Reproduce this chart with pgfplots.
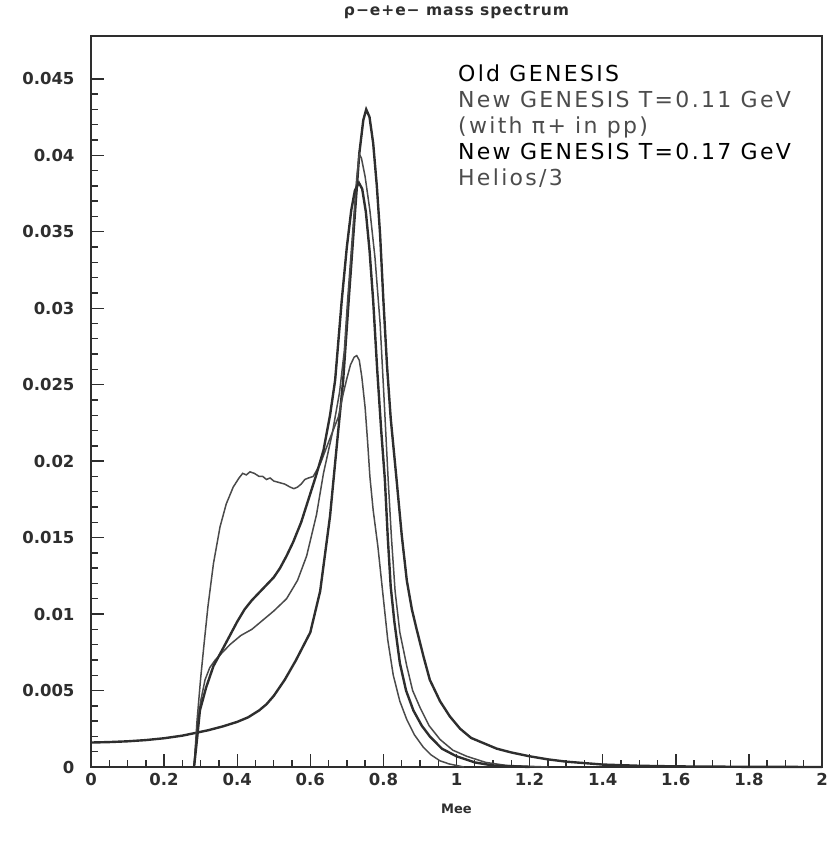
\documentclass[border=0pt]{standalone}
\usepackage{pgfplots}
\pgfplotsset{compat=1.18}
\usepackage{fontspec}
\setmainfont{DejaVu Sans}
\newfontfamily\legfont[LetterSpace=10.5]{DejaVu Sans}
\newfontfamily\titfont[LetterSpace=6]{DejaVu Sans}
\definecolor{ink}{HTML}{2E2E2E}
\definecolor{inkthin}{HTML}{4A4A4A}
\begin{document}
\begin{tikzpicture}
\useasboundingbox (-91pt,-74pt) rectangle (739pt,767pt);
\begin{axis}[
  at={(0pt,0pt)}, anchor=south west,
  scale only axis, width=731pt, height=731pt,
  xmin=0, xmax=2, ymin=0, ymax=0.0478,
  xtick={0,0.2,0.4,0.6,0.8,1,1.2,1.4,1.6,1.8,2},
  ytick={0,0.005,0.01,0.015,0.02,0.025,0.03,0.035,0.04,0.045},
  minor x tick num=3, minor y tick num=4,
  scaled y ticks=false, scaled x ticks=false,
  xticklabel style={/pgf/number format/fixed, /pgf/number format/precision=3, yshift=-3pt},
  yticklabel style={/pgf/number format/fixed, /pgf/number format/precision=3, xshift=-13pt},
  /pgf/number format/assume math mode=true,
  tick label style={font=\bfseries\fontsize{16.5}{16.5}\selectfont, text=ink},
  tick align=inside, xtick pos=bottom, ytick pos=left,
  major tick length=13pt, minor tick length=7pt,
  axis line style={line width=1.8pt, ink},
  every tick/.style={line width=1.4pt, ink},
  clip=false,
]
% Helios/3
\addplot[ink, line width=2.4pt] coordinates {
(0.00,0.00160) (0.05,0.00163) (0.10,0.00168) (0.15,0.00176) (0.20,0.00188)
(0.25,0.00205) (0.28,0.00220) (0.32,0.00240) (0.36,0.00265) (0.40,0.00295)
(0.43,0.00325) (0.46,0.00370) (0.48,0.00410) (0.50,0.00465) (0.53,0.00570) (0.56,0.00695)
(0.60,0.00880) (0.627,0.01150) (0.654,0.01640) (0.672,0.02090) (0.69,0.02530)
(0.705,0.03050) (0.72,0.03550) (0.734,0.04010) (0.745,0.04230) (0.753,0.04300)
(0.762,0.04250) (0.772,0.04080) (0.782,0.03800) (0.791,0.03480) (0.800,0.03050)
(0.810,0.02620) (0.820,0.02280) (0.836,0.01880) (0.85,0.01520) (0.864,0.01220)
(0.878,0.01030) (0.891,0.00900) (0.91,0.00720) (0.927,0.00570) (0.955,0.00430)
(0.982,0.00330) (1.01,0.00250) (1.04,0.00190) (1.07,0.00160) (1.11,0.00120)
(1.15,0.00095) (1.20,0.00070) (1.25,0.00050) (1.30,0.00035) (1.40,0.00016)
(1.50,0.00008) (1.60,0.00004) (1.80,0.00001) (2.00,0.0)
};
% Old GENESIS
\addplot[inkthin, line width=1.5pt] coordinates {
(0.282,0) (0.29,0.0030) (0.30,0.0058) (0.31,0.0082) (0.32,0.0105) (0.335,0.0133)
(0.353,0.0157) (0.37,0.0172) (0.389,0.0183) (0.405,0.0189) (0.415,0.0192)
(0.425,0.0191) (0.435,0.0193) (0.447,0.0192) (0.46,0.0190) (0.47,0.0190)
(0.48,0.0188) (0.49,0.0189) (0.50,0.0187) (0.515,0.0186)
(0.53,0.0185) (0.545,0.0183) (0.555,0.0182) (0.565,0.0183)
(0.575,0.0185) (0.585,0.0188) (0.595,0.0189) (0.608,0.0190) (0.627,0.0198)
(0.654,0.0215) (0.677,0.0229) (0.69,0.0244) (0.70,0.0254) (0.71,0.0263)
(0.72,0.0268) (0.727,0.0269) (0.734,0.0266) (0.741,0.0255) (0.75,0.0235)
(0.757,0.0212) (0.763,0.0190) (0.772,0.0168) (0.785,0.0144) (0.80,0.0110)
(0.812,0.0083) (0.827,0.0060) (0.845,0.0043) (0.864,0.0031) (0.885,0.0021)
(0.909,0.0013) (0.93,0.0008) (0.955,0.0004) (0.98,0.0002) (1.02,0.0000)
};
% New GENESIS T=0.11 GeV
\addplot[inkthin, line width=1.5pt] coordinates {
(0.282,0) (0.29,0.0025) (0.30,0.0043) (0.312,0.0057) (0.325,0.0065) (0.34,0.0070)
(0.36,0.0075) (0.38,0.0080) (0.41,0.0086) (0.44,0.0090) (0.47,0.0096)
(0.50,0.0102) (0.535,0.0110) (0.565,0.0122) (0.59,0.0138) (0.617,0.0165)
(0.636,0.0192) (0.66,0.0218) (0.68,0.0245) (0.693,0.0272) (0.702,0.0305)
(0.716,0.0350) (0.727,0.0385) (0.734,0.0401) (0.740,0.0398) (0.750,0.0386)
(0.763,0.0364) (0.777,0.0333) (0.791,0.0290) (0.802,0.0240) (0.813,0.0188)
(0.822,0.0150) (0.832,0.0115) (0.845,0.0088) (0.864,0.0066) (0.88,0.0050)
(0.90,0.0039) (0.925,0.0027) (0.955,0.0018) (0.99,0.0011) (1.028,0.0007)
(1.08,0.0003) (1.137,0.0001) (1.25,0.0)
};
% New GENESIS T=0.17 GeV
\addplot[ink, line width=2.4pt] coordinates {
(0.282,0) (0.29,0.0018) (0.298,0.0037) (0.315,0.0052) (0.335,0.0066) (0.36,0.0077)
(0.38,0.0086) (0.40,0.0095) (0.42,0.0103) (0.44,0.0109) (0.46,0.0114) (0.48,0.0119)
(0.50,0.0124) (0.517,0.0130) (0.535,0.0138) (0.553,0.0147) (0.575,0.0160) (0.595,0.0175)
(0.615,0.0190) (0.636,0.0207)
(0.654,0.0230) (0.668,0.0253) (0.686,0.0305) (0.70,0.0340) (0.712,0.0364)
(0.722,0.0377) (0.733,0.0382) (0.742,0.0378) (0.752,0.0363) (0.762,0.0338)
(0.772,0.0305) (0.783,0.0260) (0.794,0.0220) (0.804,0.0188) (0.812,0.0150)
(0.82,0.0118) (0.83,0.0095) (0.845,0.0068) (0.862,0.0050) (0.882,0.0037)
(0.905,0.0027) (0.927,0.0020) (0.96,0.0012) (1.0,0.0007) (1.05,0.0003)
(1.1,0.0001) (1.2,0.0)
};
\node[anchor=north west, inner sep=0pt, align=left,
      font=\legfont\fontsize{22}{26}\selectfont]
  at (axis cs:1.004,0.04595)
  {\textcolor{black}{Old GENESIS}\\
   \textcolor{black!70}{New GENESIS T=0.11 GeV}\\
   \textcolor{black!70}{(with π+ in pp)}\\
   \textcolor{black}{New GENESIS T=0.17 GeV}\\
   \textcolor{black!70}{Helios/3}};
\node[anchor=base, font=\titfont\bfseries\fontsize{15.5}{15.5}\selectfont, text=ink]
  at (rel axis cs:0.5,1) [yshift=20pt] {ρ−e+e− mass spectrum};
\node[anchor=base, font=\bfseries\fontsize{13}{13}\selectfont, text=ink]
  at (rel axis cs:0.5,0) [yshift=-46pt] {Mee};
\end{axis}
\end{tikzpicture}
\end{document}
